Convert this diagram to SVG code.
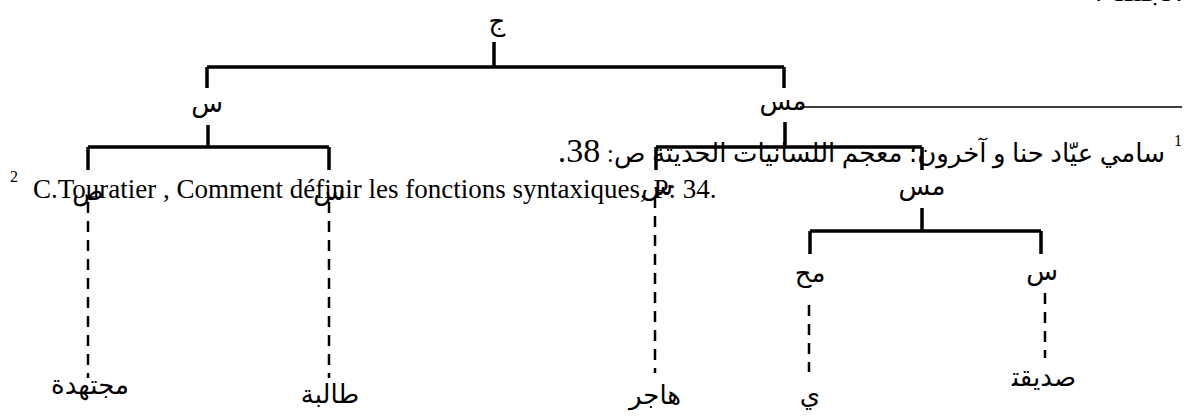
<svg xmlns="http://www.w3.org/2000/svg" width="1188" height="419" viewBox="0 0 1188 419">
<style>
.lbl{font-family:"DejaVu Sans",sans-serif;font-size:26px;fill:#000;text-anchor:middle}
.leaf{font-family:"DejaVu Sans",sans-serif;font-size:26px;fill:#000;text-anchor:middle}
.solid{stroke:#000;stroke-width:3.5;fill:none}
.dash{stroke:#000;stroke-width:2.5;fill:none;stroke-dasharray:11 8}
.fn{font-family:"Liberation Serif","DejaVu Sans",serif;fill:#000}
</style>
<rect width="1188" height="419" fill="#fff"/>
<text class="fn" x="1183" y="1" font-size="30" text-anchor="start" direction="rtl">الجملة:</text>
<g id="connectors">
<path class="solid" d="M494 42V67M207 67H784M207 67V88M784 67V88"/>
<path class="solid" d="M208 125V147M88 147H329M88 147V170M329 147V170"/>
<path class="solid" d="M785 122V147M656 147H922M656 147V170M922 147V170"/>
<path class="solid" d="M922 208V231M810 231H1041M810 231V254M1041 231V254"/>
<path class="dash" d="M88 202V378M329 202V378M655 197V373M809 305V372M1045 293V358"/>
</g>
<g id="footnote-rule"><path d="M800 107H1182" stroke="#000" stroke-width="1.5"/></g>
<g id="n-root"><text class="lbl" x="497" y="30">ج</text></g>
<g id="n-s1"><text class="lbl" x="207" y="112">س</text></g>
<g id="n-ms1"><text class="lbl" x="783" y="110">مس</text></g>
<g id="n-sad"><text class="lbl" x="88" y="200">ص</text></g>
<g id="n-s2"><text class="lbl" x="329" y="200">س</text></g>
<g id="n-s3"><text class="lbl" x="657" y="195">س</text></g>
<g id="n-ms2"><text class="lbl" x="922" y="195">مس</text></g>
<g id="n-mh"><text class="lbl" x="810" y="282">مح</text></g>
<g id="n-s4"><text class="lbl" x="1042" y="280">س</text></g>
<g id="n-w1"><text class="leaf" x="90" y="394">مجتهدة</text></g>
<g id="n-w2"><text class="leaf" x="330" y="403">طالبة</text></g>
<g id="n-w3"><text class="leaf" x="655" y="404">هاجر</text></g>
<g id="n-w4"><text class="leaf" x="810" y="404">ي</text></g>
<g id="n-w5"><text class="leaf" x="1044" y="386">صديقت&#x200D;</text></g>
<g id="footnotes">
<text class="fn" x="1182" y="146" font-size="16" text-anchor="end">1</text>
<text class="fn" x="1165" y="162" font-size="26" text-anchor="start" direction="rtl">سامي عيّاد حنا و آخرون؛ معجم اللسانيات الحديثة ص: <tspan font-size="34">38.</tspan></text>
<text class="fn" x="10" y="182" font-size="16">2</text>
<text class="fn" x="33" y="198" font-size="27">C.Touratier , Comment définir les fonctions syntaxiques, P: 34.</text>
</g>
</svg>
